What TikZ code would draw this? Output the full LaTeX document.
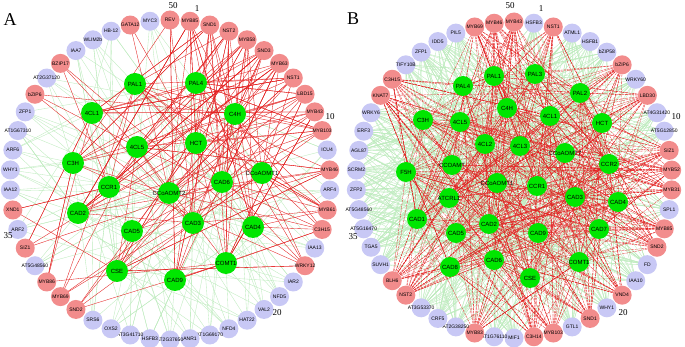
\documentclass[tikz,border=0pt]{standalone}
\usepackage{fontspec}
\setmainfont{Liberation Serif}
\newfontfamily\lsans{Liberation Sans}
\usetikzlibrary{backgrounds}
\definecolor{rnode}{RGB}{242,140,140}
\definecolor{lnode}{RGB}{200,200,245}
\definecolor{gnode}{RGB}{0,230,0}
\definecolor{redge}{RGB}{228,30,30}
\definecolor{gedge}{RGB}{190,236,190}
\tikzset{
 outer/.style={circle, minimum size=19pt, inner sep=0pt, font=\lsans\fontsize{5}{5}\selectfont},
 rn/.style={outer, fill=rnode},
 ln/.style={outer, fill=lnode},
 gn/.style={circle, fill=gnode, minimum size=22pt, inner sep=0pt, font=\lsans\fontsize{6}{6}\selectfont},
 gnb/.style={gn, minimum size=20pt},
 redline/.style={draw=redge, line width=0.35pt},
 redlineb/.style={draw=redge, line width=0.35pt, opacity=0.85, dash pattern=on 2.5pt off 0.8pt},
 grnline/.style={draw=gedge, line width=0.35pt},
 panel/.style={font=\fontsize{18}{18}\selectfont},
 idx/.style={font=\fontsize{9}{9}\selectfont},
}
\begin{document}
\begin{tikzpicture}[x=1pt,y=-1pt]
\useasboundingbox (0,0) rectangle (685,347);
% ---------- Panel A nodes ----------
\foreach \k/\nm/\st in {1/MYB85/rn,2/SND1/rn,3/NST2/rn,4/MYB58/rn,5/SND3/rn,6/MYB63/rn,7/NST1/rn,8/LBD15/rn,9/MYB43/rn,10/MYB103/rn,
 11/ICU4/ln,12/MYB46/rn,13/ARF4/ln,14/MYB61/rn,15/C3H15/rn,16/IAA13/ln,17/WRKY12/rn,18/IAR2/ln,19/NFD5/ln,20/VAL2/ln,
 21/HAT22/ln,22/NFD4/ln,23/AT1G69170/ln,24/ANR1/ln,25/AT2G37650/ln,26/HSFB3/ln,27/AT3G41710/ln,28/OXS2/ln,29/SRS6/ln,30/SND2/rn,
 31/MYB69/rn,32/MYB86/rn,33/AT5G48560/ln,34/SIZ1/rn,35/ARF2/ln,36/XND1/rn,37/IAA12/ln,38/WHY1/ln,39/ARF6/ln,40/AT1G67310/ln,
 41/ZFP1/ln,42/bZIP6/rn,43/AT2G37120/ln,44/BZIP17/rn,45/IAA7/ln,46/WLIM2b/ln,47/HB-12/ln,48/GATA12/rn,49/MYC3/ln,50/REV/rn}
 {\path (170,180) ++(-90+7.2*\k:160) node[\st] (a\k) {\makebox[0pt]{\nm}};}
\foreach \k/\nm/\x/\y in {1/PAL1/135/84,2/PAL4/196/83,3/4CL1/92/113,4/C4H/235/114,5/4CL5/137/147,6/HCT/196/143,
 7/C3H/73/163,8/CCR1/109/187,9/CCoAOMT2/169/193,10/CAD6/222/182,11/CCoAOMT1/262/173,12/CAD2/78/213,
 13/CAD5/132/231,14/CAD3/193/223,15/CAD4/253/227,16/CSE/117/271,17/COMT1/226/263,18/CAD9/175/280}
 {\node[gn] (ag\k) at (\x,\y) {\makebox[0pt]{\nm}};}
% ---------- Panel B nodes ----------
\foreach \k/\nm/\st in {1/HSFB3/ln,2/NST1/rn,3/ATML1/ln,4/HSFB1/ln,5/bZIP58/ln,6/bZIP6/rn,7/WRKY60/ln,8/LBD30/rn,9/AT4G31420/ln,10/AT5G12850/ln,
 11/SIZ1/rn,12/MYB52/rn,13/MYB31/rn,14/SPL1/ln,15/MYB85/rn,16/SND2/rn,17/FD/ln,18/IAA10/ln,19/VND4/rn,20/WHY1/ln,
 21/SND1/rn,22/GTL1/ln,23/MYB103/rn,24/C3H14/rn,25/MIF1/ln,26/AT1G76110/ln,27/MYB83/rn,28/AT2G38250/ln,29/CRF5/ln,30/AT3G53370/ln,
 31/NST2/rn,32/BLH6/rn,33/SUVH1/ln,34/TGA5/ln,35/AT5G16470/ln,36/AT5G48560/ln,37/ZFP2/ln,38/SCRM2/ln,39/AGL87/ln,40/ERF3/ln,
 41/WRKY6/ln,42/KNAT7/rn,43/C3H15/rn,44/TIFY10B/ln,45/ZFP1/ln,46/IDD5/ln,47/PIL5/ln,48/MYB69/rn,49/MYB46/rn,50/MYB43/rn}
 {\path (514,180) ++(-90+7.2*\k:158) node[\st] (b\k) {\makebox[0pt]{\nm}};}
\foreach \k/\nm/\x/\y in {1/PAL1/494/76,2/PAL3/535/74,3/PAL4/463/86,4/PAL2/580/93,5/C4H/507/108,6/4CL1/550/116,7/HCT/602/123,
 8/C3H/423/120,9/4CL5/460/122,10/4CL2/485/144,11/4CL3/520/146,12/CCoAOMT7/565/153,13/CCR2/609/164,14/F5H/406/172,
 15/CCOAMT/452/165,16/CCoAOMT1/497/183,17/CCR1/537/186,18/CAD3/575/197,19/CAD4/618/202,20/ATCRL1/449/198,21/CAD1/417/219,
 22/CAD2/489/224,23/CAD9/538/233,24/CAD7/599/229,25/CAD5/456/233,26/CAD6/494/260,27/CAD8/450/267,28/COMT1/579/262,29/CSE/530/278}
 {\node[gnb] (bg\k) at (\x,\y) {\makebox[0pt]{\nm}};}
% ---------- labels ----------
\node[panel] (pa) at (10,20) {A};
\node[panel] (pb) at (353,19) {B};
\node[idx] (a50l) at (173,6) {50};
\node[idx] (a1l) at (197,9) {1};
\node[idx] (a10l) at (330,117) {10};
\node[idx] (a20l) at (277,313) {20};
\node[idx] (a35l) at (8,236) {35};
\node[idx] (b50l) at (510,6) {50};
\node[idx] (b1l) at (541,9) {1};
\node[idx] (b10l) at (676,117) {10};
\node[idx] (b20l) at (623,313) {20};
\node[idx] (b35l) at (353,237) {35};
% ---------- edges ----------
\begin{pgfonlayer}{background}
\fill[white] (0,0) rectangle (685,347);
\pgfmathsetseed{11}
% panel A: lavender -> green (light green)
\foreach \k in {11,13,16,18,19,20,21,22,23,24,25,26,27,28,29,33,35,37,38,39,40,41,43,45,46,47,49}
 {\foreach \j in {1,...,5}{\pgfmathrandominteger{\g}{1}{18}\draw[grnline] (a\k.center) -- (ag\g.center);}}
% panel B: lavender -> green
\foreach \k in {1,3,4,5,7,9,10,14,17,18,20,22,25,26,28,29,30,33,34,35,36,37,38,39,40,41,44,45,46,47}
 {\foreach \j in {1,...,24}{\pgfmathrandominteger{\g}{1}{29}\draw[grnline] (b\k.center) -- (bg\g.center);}}
% panel A: red -> green
\foreach \k/\c in {1/11,2/11,3/11,4/11,5/11,6/11,7/10,8/10,9/9,10/9,12/8,14/8,15/7,17/7,30/4,31/4,32/4,34/4,36/3,42/3,44/3,48/2,50/4}
 {\foreach \j in {1,...,\c}{\pgfmathrandominteger{\g}{1}{18}\draw[redline] (a\k.center) -- (ag\g.center);}}
\foreach \j in {1,...,18}{\pgfmathrandominteger{\g}{1}{18}\pgfmathrandominteger{\h}{1}{18}\draw[redline] (ag\g.center) -- (ag\h.center);}
% panel B: red -> green
\foreach \k in {2,6,8,11,12,13,15,16,19,21,23,24,27,31,32,42,43,48,49,50}
 {\foreach \j in {1,...,22}{\pgfmathrandominteger{\g}{1}{29}\draw[redlineb] (b\k.center) -- (bg\g.center);}}
\foreach \j in {1,...,140}{\pgfmathrandominteger{\g}{1}{29}\pgfmathrandominteger{\h}{1}{29}\draw[redlineb] (bg\g.center) -- (bg\h.center);}
\end{pgfonlayer}
\end{tikzpicture}
\end{document}
